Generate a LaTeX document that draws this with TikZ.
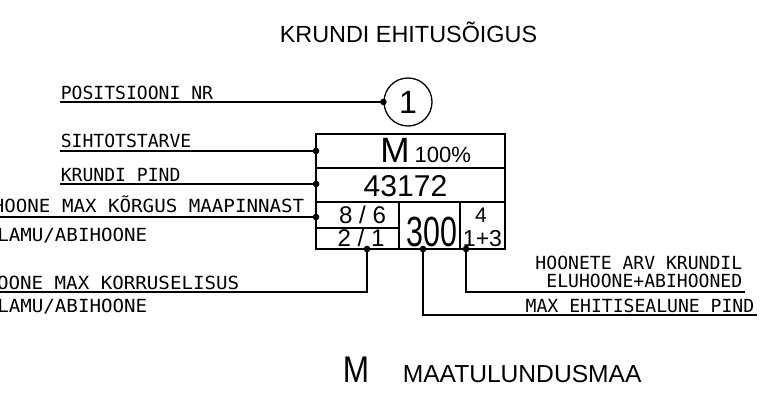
\documentclass[tikz,border=0pt]{standalone}
\usepackage{fontspec}
\setmainfont{Liberation Sans}
\newfontfamily\cadfont{DejaVu Sans Mono}
\newfontfamily\cadwide{DejaVu Sans Mono}[FakeStretch=1.06]
\usepackage{tikz}

\begin{document}
\begin{tikzpicture}[scale=0.35, line width=1.5pt,
    cad/.style={font=\cadfont\fontsize{18}{18}\selectfont, inner sep=0pt},
    cadw/.style={font=\cadwide\fontsize{18}{18}\selectfont, inner sep=0pt},
    cell/.style={inner sep=0pt, anchor=base},
    pt/.style={font=\fontsize{#1}{#1}\selectfont}]

    \useasboundingbox (0, 0) rectangle (76.6, 39.7);

    \node[cell, pt=23.3] (title) at (40.85, 35.4) {KRUNDI EHITUSÕIGUS};

    % positsiooni ring
    \node[circle, draw, line width=1.3pt, minimum size=1.68cm, inner sep=0pt, pt=32] (posnr) at (40.8, 29.5) {1};

    % tabel
    \draw (31.6, 14.8) rectangle (50.5, 26.3);
    \draw (31.6, 22.9) -- (50.5, 22.9);
    \draw (31.6, 19.5) -- (50.5, 19.5);
    \draw (31.6, 16.9) -- (39.9, 16.9);
    \draw (39.9, 19.5) -- (39.9, 14.8);
    \draw (46.0, 19.5) -- (46.0, 14.8);

    \node[inner sep=0pt, anchor=base west] (use) at (37.95, 23.4) {{\fontsize{35}{35}\selectfont M}\hspace{5pt}{\fontsize{22}{22}\selectfont 100\%}};
    \node[cell, pt=30] (area) at (40.55, 20.0) {43172};
    \node[cell, pt=24] (height) at (36.25, 17.3) {8 / 6};
    \node[cell, pt=24] (floors) at (36.1, 15.0) {2 / 1};
    \node[cell, pt=42] (foot) at (43.2, 15.0) {\scalebox{0.72}[1]{300}};
    \node[cell, pt=21] (count) at (48.1, 17.4) {4};
    \node[cell, pt=23] (split) at (48.25, 15.0) {1+3};

    % viigud
    \coordinate (useP) at (31.6, 24.6);
    \coordinate (areaP) at (31.6, 21.3);
    \coordinate (heightP) at (31.6, 18.0);
    \coordinate (floorsP) at (36.7, 14.8);
    \coordinate (footP) at (42.3, 14.8);
    \coordinate (countP) at (46.6, 14.8);

    \coordinate (posL) at (6.0, 29.5);
    \coordinate (useL) at (6.0, 24.6);
    \coordinate (areaL) at (6.0, 21.3);
    \coordinate (heightL) at (-0.5, 18.0);
    \coordinate (floorsL) at (-0.5, 10.5);
    \coordinate (footR) at (75.7, 8.2);
    \coordinate (countR) at (74.5, 10.5);

    \draw (posL) -- (posnr.west);
    \draw (useL) -- (useP);
    \draw (areaL) -- (areaP);
    \draw (heightL) -- (heightP);
    \draw (floorsL) -| (floorsP);
    \draw (footP) |- (footR);
    \draw (countP) |- (countR);

    \foreach \p in {posnr.west, useP, areaP, heightP, floorsP, footP, countP} {
            \fill (\p) circle (0.33);
        }

    \node[cad, anchor=base west] (posT) at (6.0, 29.75) {POSITSIOONI NR};
    \node[cad, anchor=base west] (useT) at (6.0, 24.9) {SIHTOTSTARVE};
    \node[cad, anchor=base west] (areaT) at (6.0, 21.5) {KRUNDI PIND};
    \node[cadw, anchor=base east] (heightT) at (30.5, 18.4) {HOONE MAX KÕRGUS MAAPINNAST};
    \node[cadw, anchor=base east] (heightS) at (14.8, 15.5) {ELAMU/ABIHOONE};
    \node[cadw, anchor=base east] (floorsT) at (24.0, 10.7) {HOONE MAX KORRUSELISUS};
    \node[cadw, anchor=base east] (floorsS) at (14.8, 8.4) {ELAMU/ABIHOONE};
    \node[cad, anchor=base east] (countT) at (74.3, 12.7) {HOONETE ARV KRUNDIL};
    \node[cad, anchor=base east] (countS) at (74.3, 10.9) {ELUHOONE+ABIHOONED};
    \node[cad, anchor=base east] (footT) at (75.5, 8.4) {MAX EHITISEALUNE PIND};

    % legend
    \node[cell, anchor=base west, pt=37] (legM) at (34.2, 1.5) {\scalebox{0.85}[1]{M}};
    \node[cell, anchor=base west, pt=24.5] (legT) at (40.2, 1.5) {MAATULUNDUSMAA};

\end{tikzpicture}
\end{document}
